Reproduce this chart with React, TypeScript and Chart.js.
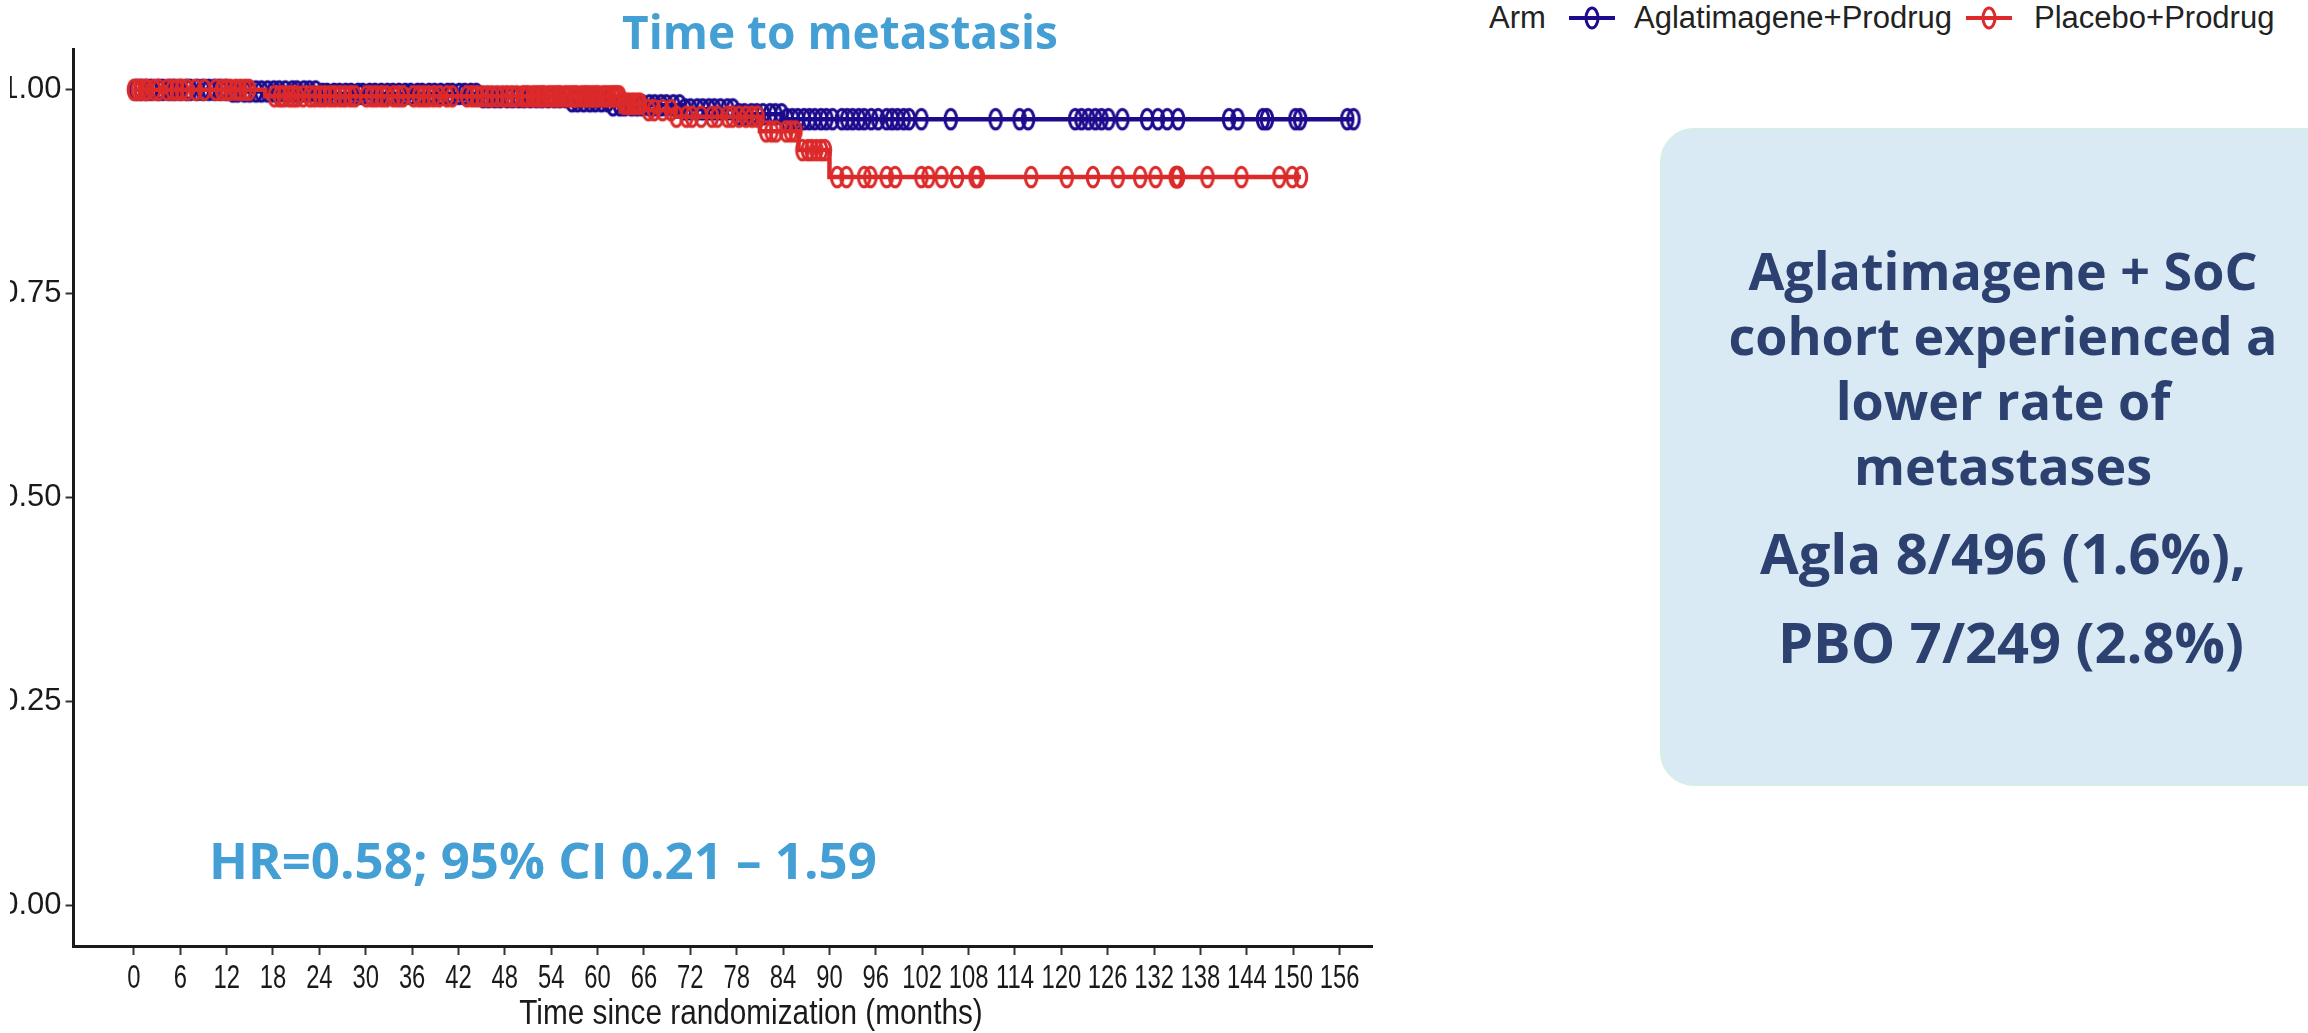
import React, { useEffect, useRef } from "react";
import { Chart, registerables } from "chart.js";

Chart.register(...registerables);

// ---------- data ----------
const xTickValues = [0, 6, 12, 18, 24, 30, 36, 42, 48, 54, 60, 66, 72, 78, 84, 90, 96, 102, 108, 114, 120, 126, 132, 138, 144, 150, 156];
const yTickValues = [0, 0.25, 0.5, 0.75, 1.0];

const seriesNames = ["Aglatimagene+Prodrug", "Placebo+Prodrug"];

// Kaplan-Meier steps: time of event (months) and survival after it
const aglaEventTimes = [0, 12, 24, 45, 56, 62, 71, 78, 84];
const aglaSurvival = [1.0, 0.998, 0.995, 0.991, 0.986, 0.981, 0.976, 0.97, 0.964];
const aglaCensorTimes = [
  0.3, 0.9, 1.6, 2.2, 3.1, 3.7, 4.6, 5.2, 6.0, 6.8, 7.3, 8.2, 8.9, 9.7, 10.4, 11.1, 11.9, 12.8, 13.4, 14.3,
  15.0, 15.8, 16.5, 17.3, 18.1, 18.8, 19.6, 20.5, 21.1, 22.0, 22.7, 23.5, 24.4, 25.0, 25.9, 26.6, 27.4, 28.1,
  29.0, 29.6, 30.5, 31.2, 32.0, 32.8, 33.5, 34.3, 35.1, 35.8, 36.7, 37.3, 38.2, 38.9, 39.7, 40.6, 41.2, 42.1,
  42.8, 43.6, 44.3, 45.2, 45.9, 46.7, 47.4, 48.3, 49.0, 49.8, 50.5, 51.3, 52.1, 52.8, 53.6, 54.4, 55.1, 55.9,
  56.7, 57.4, 58.2, 59.0, 59.7, 60.5, 61.3, 62.0, 62.9, 63.5, 64.4, 65.1, 65.8, 66.7, 67.4, 68.2, 68.9, 69.8,
  70.6, 71.3, 72.0, 72.9, 73.6, 74.4, 75.1, 75.9, 76.8, 77.5, 78.3, 79.0, 79.9, 80.6, 81.4, 82.3, 83.0, 83.8,
  84.5, 85.2, 85.9, 86.7, 87.4, 88.1, 88.9, 89.6, 90.4, 91.6, 92.3, 93.0, 93.8, 94.5, 95.4, 96.3, 97.4, 98.1,
  98.8, 99.6, 100.3, 101.9, 105.7, 111.5, 114.6, 115.7, 121.8, 122.6, 123.5, 124.4, 125.2, 126.1, 127.9,
  131.1, 132.5, 133.7, 135.1, 141.7, 142.8, 146.1, 146.6, 150.3, 150.9, 157.0, 157.8,
];

const pboEventTimes = [0, 17, 63, 66, 70, 81, 86, 90];
const pboSurvival = [1.0, 0.992, 0.983, 0.975, 0.967, 0.949, 0.926, 0.893];
const pboCensorTimes = [
  0.0, 0.5, 0.9, 1.4, 1.7, 2.6, 3.2, 4.3, 5.0, 5.6, 6.2, 6.9, 8.0, 9.1, 10.6, 11.4, 12.0, 12.5, 13.2, 13.8,
  14.4, 14.9, 18.2, 18.9, 19.4, 20.1, 20.6, 21.1, 21.9, 22.8, 23.4, 24.1, 24.7, 25.4, 26.0, 26.7, 27.3,
  28.0, 28.6, 30.1, 30.8, 31.4, 32.1, 32.7, 33.6, 34.2, 34.8, 36.2, 36.9, 37.5, 38.1, 38.8, 39.5, 40.5,
  41.2, 43.1, 43.8, 44.4, 45.1, 45.7, 46.3, 47.0, 47.7, 48.3, 48.9, 49.5, 50.3, 50.7, 51.0, 51.6, 52.0,
  52.4, 52.8, 53.1, 53.7, 54.1, 54.5, 54.9, 55.2, 55.8, 56.2, 56.6, 57.0, 57.3, 57.9, 58.3, 58.6, 59.0,
  59.4, 59.8, 60.1, 60.7, 61.1, 61.5, 61.9, 62.2, 62.5, 62.8, 63.4, 63.8, 64.1, 64.5, 64.8, 65.2, 65.5,
  66.6, 67.3, 68.4, 69.5, 70.2, 71.5, 72.2, 73.4, 74.8, 75.5, 76.8, 77.4, 78.3, 79.2, 80.0, 80.7, 81.8,
  82.5, 83.1, 84.4, 85.0, 85.6, 86.5, 87.2, 87.7, 88.3, 88.9, 89.4, 91.0, 92.2, 94.5, 95.3, 97.4, 98.5,
  101.9, 102.8, 104.5, 106.5, 108.9, 109.2, 116.1, 120.7, 124.1, 127.3, 130.2, 132.2, 134.8, 134.9, 135.0,
  135.1, 138.9, 143.3, 148.2, 149.9, 151.0,
];

// ---------- style ----------
const BLUE = "#1d0b8d";
const RED = "#dc2a2b";
const LIGHT_BLUE = "#449fd4";
const NAVY_TEXT = "#2c4170";
const AXIS_TEXT = "#1a1a1a";

const X_MIN = -7.8;
const X_MAX = 160.2;
const Y_MIN = -0.05;
const Y_MAX = 1.05;

function survivalAt(times: number[], surv: number[], t: number) {
  let s = surv[0];
  for (let i = 0; i < times.length; i++) if (times[i] <= t) s = surv[i];
  return s;
}

function curvePoints(times: number[], surv: number[], censors: number[]) {
  const pts = times.map((t, i) => ({ x: t, y: surv[i] }));
  const last = censors[censors.length - 1];
  pts.push({ x: last, y: surv[surv.length - 1] });
  return pts;
}

function censorPoints(times: number[], surv: number[], censors: number[]) {
  return censors.map((t) => ({ x: t, y: survivalAt(times, surv, t) }));
}

function makeMarker(color: string) {
  const c = document.createElement("canvas");
  c.width = 18;
  c.height = 26;
  const ctx = c.getContext("2d")!;
  ctx.strokeStyle = color;
  ctx.lineWidth = 3;
  ctx.beginPath();
  ctx.ellipse(9, 13, 5.8, 9.8, 0, 0, Math.PI * 2);
  ctx.stroke();
  return c;
}

// Draws x tick labels horizontally condensed, at the positions given by the x scale
const condensedXTicks = {
  id: "condensedXTicks",
  afterDraw(chart: any) {
    const scale = chart.scales.x;
    const ctx = chart.ctx;
    ctx.save();
    ctx.fillStyle = AXIS_TEXT;
    ctx.font = "34px 'Liberation Sans', Arial, sans-serif";
    ctx.textAlign = "center";
    ctx.textBaseline = "alphabetic";
    const baseline = scale.top + 42;
    scale.ticks.forEach((tk: any) => {
      const x = scale.getPixelForValue(tk.value);
      ctx.save();
      ctx.translate(x, baseline);
      ctx.scale(0.7, 1);
      ctx.fillText(String(tk.value), 0, 0);
      ctx.restore();
    });
    ctx.restore();
  },
};

function LegendMarker({ color }: { color: string }) {
  return (
    <svg width={46} height={28} style={{ display: "block" }}>
      <line x1={0} y1={14} x2={46} y2={14} stroke={color} strokeWidth={4} />
      <ellipse cx={23} cy={14} rx={6} ry={10} fill="none" stroke={color} strokeWidth={3} />
    </svg>
  );
}

const CANVAS_LEFT = 10;

export default function App() {
  const canvasRef = useRef<HTMLCanvasElement | null>(null);

  useEffect(() => {
    const canvas = canvasRef.current;
    if (!canvas) return;
    const blueMarker = makeMarker(BLUE);
    const redMarker = makeMarker(RED);

    const chart = new Chart(canvas, {
      type: "scatter",
      plugins: [condensedXTicks],
      data: {
        datasets: [
          {
            label: seriesNames[1] + " censored",
            data: censorPoints(pboEventTimes, pboSurvival, pboCensorTimes),
            pointStyle: redMarker as any,
            pointRadius: 7,
            showLine: false,
            order: 1,
          },
          {
            label: seriesNames[1],
            data: curvePoints(pboEventTimes, pboSurvival, pboCensorTimes),
            showLine: true,
            stepped: true,
            borderColor: RED,
            borderWidth: 4.5,
            pointRadius: 0,
            order: 2,
          },
          {
            label: seriesNames[0] + " censored",
            data: censorPoints(aglaEventTimes, aglaSurvival, aglaCensorTimes),
            pointStyle: blueMarker as any,
            pointRadius: 7,
            showLine: false,
            order: 3,
          },
          {
            label: seriesNames[0],
            data: curvePoints(aglaEventTimes, aglaSurvival, aglaCensorTimes),
            showLine: true,
            stepped: true,
            borderColor: BLUE,
            borderWidth: 4.5,
            pointRadius: 0,
            order: 4,
          },
        ] as any,
      },
      options: {
        animation: false,
        responsive: false,
        devicePixelRatio: 1,
        events: [],
        layout: { padding: { left: 0, right: 48, top: 49, bottom: 0 } },
        plugins: {
          legend: { display: false },
          title: { display: false },
          tooltip: { enabled: false },
        },
        scales: {
          x: {
            type: "linear",
            min: X_MIN,
            max: X_MAX,
            afterBuildTicks: (scale: any) => {
              scale.ticks = xTickValues.map((v) => ({ value: v }));
            },
            afterFit: (scale: any) => {
              scale.height = 87;
            },
            ticks: {
              autoSkip: false,
              maxRotation: 0,
              minRotation: 0,
              padding: 5,
              color: "rgba(0,0,0,0)",
              font: { family: "'Liberation Sans', Arial, sans-serif", size: 20 },
              callback: (v: any) => String(v),
            },
            grid: {
              display: true,
              drawOnChartArea: false,
              drawTicks: true,
              tickLength: 9,
              tickWidth: 2,
              tickColor: "#333333",
            },
            border: { display: true, color: AXIS_TEXT, width: 3 },
          },
          y: {
            type: "linear",
            min: Y_MIN,
            max: Y_MAX,
            afterBuildTicks: (scale: any) => {
              scale.ticks = yTickValues.map((v) => ({ value: v }));
            },
            afterFit: (scale: any) => {
              scale.width = 73.6 - CANVAS_LEFT;
            },
            ticks: {
              autoSkip: false,
              padding: 4,
              color: AXIS_TEXT,
              font: { family: "'Liberation Sans', Arial, sans-serif", size: 31 },
              callback: (v: any) => Number(v).toFixed(2),
            },
            grid: {
              display: true,
              drawOnChartArea: false,
              drawTicks: true,
              tickLength: 8,
              tickWidth: 2,
              tickColor: "#333333",
            },
            border: { display: true, color: AXIS_TEXT, width: 3 },
          },
        },
      } as any,
    });
    return () => chart.destroy();
  }, []);

  const sans = "'Open Sans', 'Noto Sans', sans-serif";
  const arial = "'Liberation Sans', Arial, sans-serif";
  const legendText = {
    position: "absolute" as const,
    top: 2,
    fontFamily: arial,
    fontSize: 31,
    lineHeight: "31px",
    color: "#222",
    whiteSpace: "nowrap" as const,
  };

  return (
    <div
      style={{
        position: "fixed",
        left: 0,
        top: 0,
        width: 2308,
        height: 1033,
        overflow: "hidden",
        background: "#ffffff",
      }}
    >
      <canvas
        ref={canvasRef}
        width={1420 - CANVAS_LEFT}
        height={1033}
        style={{ position: "absolute", left: CANVAS_LEFT, top: 0, width: 1420 - CANVAS_LEFT, height: 1033 }}
      />

      {/* title */}
      <div
        style={{
          position: "absolute",
          left: 540,
          width: 600,
          top: 8,
          textAlign: "center",
          fontFamily: sans,
          fontWeight: 700,
          fontSize: 46,
          lineHeight: "46px",
          color: LIGHT_BLUE,
          whiteSpace: "nowrap",
        }}
      >
        Time to metastasis
      </div>

      {/* x axis title */}
      <div
        style={{
          position: "absolute",
          left: 451,
          width: 600,
          top: 994,
          textAlign: "center",
          fontFamily: arial,
          fontSize: 35,
          lineHeight: "35px",
          color: AXIS_TEXT,
          whiteSpace: "nowrap",
          transform: "scaleX(0.85)",
          transformOrigin: "50% 50%",
        }}
      >
        Time since randomization (months)
      </div>

      {/* HR annotation */}
      <div
        style={{
          position: "absolute",
          left: 209,
          top: 834,
          fontFamily: sans,
          fontWeight: 700,
          fontSize: 51,
          lineHeight: "51px",
          color: LIGHT_BLUE,
          whiteSpace: "nowrap",
        }}
      >
        HR=0.58; 95% CI 0.21 – 1.59
      </div>

      {/* legend */}
      <div style={{ ...legendText, left: 1489 }}>Arm</div>
      <div style={{ position: "absolute", left: 1569, top: 4 }}>
        <LegendMarker color={BLUE} />
      </div>
      <div style={{ ...legendText, left: 1634 }}>{seriesNames[0]}</div>
      <div style={{ position: "absolute", left: 1966, top: 4 }}>
        <LegendMarker color={RED} />
      </div>
      <div style={{ ...legendText, left: 2034 }}>{seriesNames[1]}</div>

      {/* callout box */}
      <div
        style={{
          position: "absolute",
          left: 1660,
          top: 128,
          width: 686,
          height: 658,
          borderRadius: 34,
          background: "#d9eaf5",
          border: "2px solid #d4efe4",
          boxSizing: "border-box",
        }}
      />
      <div
        style={{
          position: "absolute",
          left: 1660,
          width: 686,
          top: 237,
          textAlign: "center",
          fontFamily: sans,
          fontWeight: 700,
          fontSize: 52,
          lineHeight: "65px",
          color: NAVY_TEXT,
        }}
      >
        <div style={{ whiteSpace: "nowrap" }}>Aglatimagene + SoC</div>
        <div style={{ whiteSpace: "nowrap" }}>cohort experienced a</div>
        <div style={{ whiteSpace: "nowrap" }}>lower rate of</div>
        <div style={{ whiteSpace: "nowrap" }}>metastases</div>
      </div>
      <div
        style={{
          position: "absolute",
          left: 1660,
          width: 686,
          top: 520,
          textAlign: "center",
          fontFamily: sans,
          fontWeight: 700,
          fontSize: 56,
          lineHeight: "65px",
          color: NAVY_TEXT,
          whiteSpace: "nowrap",
        }}
      >
        Agla 8/496 (1.6%),
      </div>
      <div
        style={{
          position: "absolute",
          left: 1668,
          width: 686,
          top: 609,
          textAlign: "center",
          fontFamily: sans,
          fontWeight: 700,
          fontSize: 56,
          lineHeight: "65px",
          color: NAVY_TEXT,
          whiteSpace: "nowrap",
        }}
      >
        PBO 7/249 (2.8%)
      </div>
    </div>
  );
}
